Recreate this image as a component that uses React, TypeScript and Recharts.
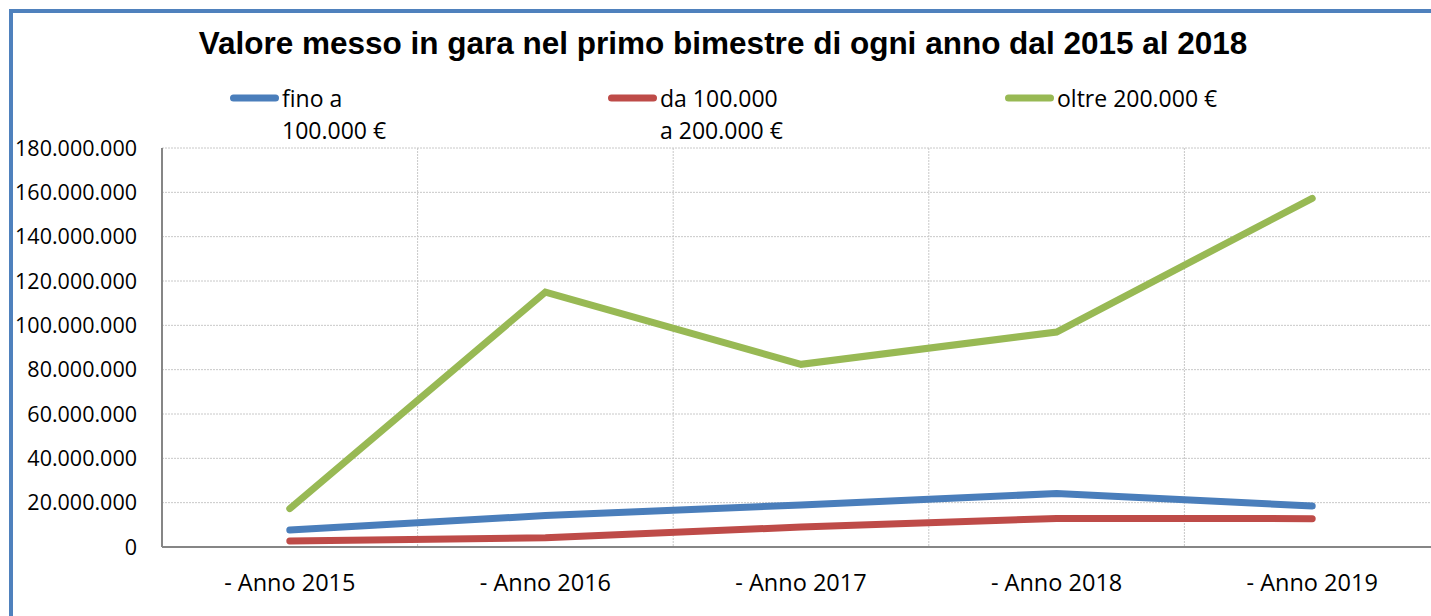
import React from "react";
import { LineChart, Line, XAxis, YAxis, CartesianGrid } from "recharts";

// values (euro)
const categories = ["- Anno 2015", "- Anno 2016", "- Anno 2017", "- Anno 2018", "- Anno 2019"];
const finoA100k = [7700000, 14200000, 19000000, 24100000, 18500000];
const da100kA200k = [2700000, 4200000, 9000000, 12900000, 12800000];
const oltre200k = [17300000, 115000000, 82400000, 97000000, 157300000];
const seriesNames = ["fino a 100.000 €", "da 100.000 a 200.000 €", "oltre 200.000 €"];
const yTicks = [0, 20000000, 40000000, 60000000, 80000000, 100000000, 120000000, 140000000, 160000000, 180000000];

const COLORS = ["#4A7EBB", "#BE4B48", "#98B954"];
const LEGEND_LEFT = [230, 608, 1005];
const LEGEND_TEXT_WIDTH = [125, 125, 260];
const FONT = "'Open Sans', 'Noto Sans', sans-serif";

const data = categories.map((cat, i) => ({
  cat,
  s0: finoA100k[i],
  s1: da100kA200k[i],
  s2: oltre200k[i],
}));

const fmt = (n: number) => String(n).replace(/\B(?=(\d{3})+(?!\d))/g, ".");

export default function App() {
  return (
    <div
      style={{
        position: "absolute",
        left: 0,
        top: 0,
        width: 1431,
        height: 616,
        overflow: "hidden",
        background: "#fff",
        fontFamily: FONT,
      }}
    >
      {/* frame of the chart, only top and left edges visible */}
      <div
        style={{
          position: "absolute",
          left: 9,
          top: 9,
          width: 1600,
          height: 800,
          borderLeft: "4px solid #4F81BD",
          borderTop: "4px solid #4F81BD",
        }}
      />

      <div
        style={{
          position: "absolute",
          left: 0,
          top: 25,
          width: 1446,
          textAlign: "center",
          fontFamily: "'Liberation Sans', Arial, sans-serif",
          fontWeight: "bold",
          fontSize: 31.5,
          lineHeight: "36px",
          color: "#000",
        }}
      >
        Valore messo in gara nel primo bimestre di ogni anno dal 2015 al 2018
      </div>

      {seriesNames.map((name, i) => (
        <div
          key={name}
          style={{ position: "absolute", left: LEGEND_LEFT[i], top: 82, display: "flex" }}
        >
          <svg width={52} height={32} style={{ flex: "none" }}>
            <line
              x1={3.5}
              y1={16}
              x2={45.5}
              y2={16}
              stroke={COLORS[i]}
              strokeWidth={7}
              strokeLinecap="round"
            />
          </svg>
          <div
            style={{
              maxWidth: LEGEND_TEXT_WIDTH[i],
              fontSize: 23,
              lineHeight: "32px",
              color: "#000",
            }}
          >
            {name}
          </div>
        </div>
      ))}

      <div style={{ position: "absolute", left: 0, top: 0 }}>
        <LineChart
          width={1440}
          height={616}
          data={data}
          margin={{ top: 148, right: 0, left: 0, bottom: 29 }}
        >
          <CartesianGrid
            stroke="#c8c8c8"
            strokeDasharray="2 1"
            verticalCoordinatesGenerator={({ offset }: any) =>
              categories.map((_, i) => offset.left + (offset.width * (i + 1)) / categories.length)
            }
          />
          <XAxis
            dataKey="cat"
            scale="band"
            height={40}
            tickLine={false}
            tickSize={0}
            tickMargin={27}
            axisLine={{ stroke: "#868686", strokeWidth: 2 }}
            tick={{ fill: "#000", fontSize: 23.5, fontFamily: FONT }}
            interval={0}
          />
          <YAxis
            width={162}
            domain={[0, 180000000]}
            ticks={yTicks}
            tickFormatter={fmt}
            tickLine={false}
            tickSize={0}
            tickMargin={25}
            axisLine={{ stroke: "#868686", strokeWidth: 2 }}
            tick={{ fill: "#000", fontSize: 21.5, fontFamily: FONT }}
            interval={0}
          />
          {["s0", "s1", "s2"].map((key, i) => (
            <Line
              key={key}
              type="linear"
              dataKey={key}
              name={seriesNames[i]}
              stroke={COLORS[i]}
              strokeWidth={7}
              strokeLinecap="round"
              dot={false}
              activeDot={false}
              isAnimationActive={false}
            />
          ))}
        </LineChart>
      </div>
    </div>
  );
}
